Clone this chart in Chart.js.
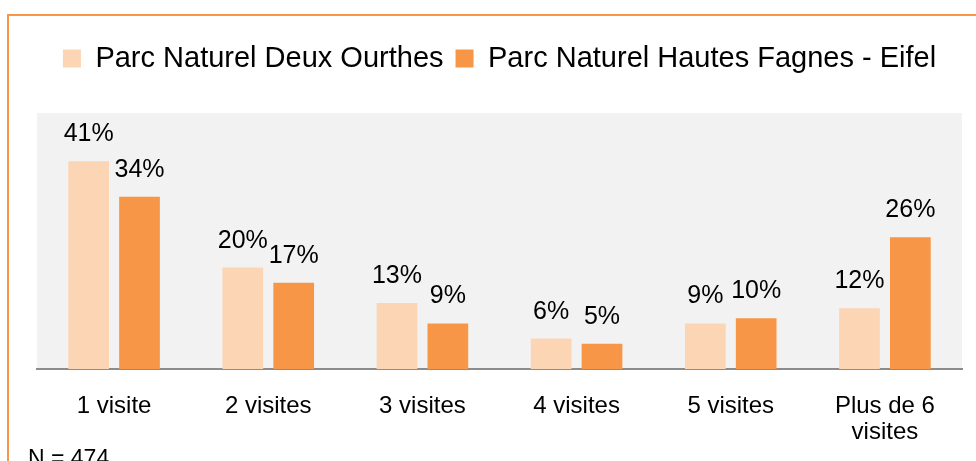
<!DOCTYPE html>
<html>
<head>
<meta charset="utf-8">
<script src="https://cdn.jsdelivr.net/npm/chart.js@4/dist/chart.umd.min.js"></script>
<style>
  html, body { margin: 0; padding: 0; background: #ffffff; overflow: hidden; }
  #wrap { position: relative; width: 976px; height: 461px; }
  #frame { position: absolute; left: 7px; top: 14px; width: 1200px; height: 800px;
           border-left: 2px solid #F79646; border-top: 2px solid #F79646; box-sizing: border-box; }
  canvas { position: absolute; left: 0; top: 0; }
</style>
</head>
<body>
<div id="wrap">
  <div id="frame"></div>
  <canvas id="c" width="976" height="461"></canvas>
</div>
<script>
const categories = ["1 visite", "2 visites", "3 visites", "4 visites", "5 visites", ["Plus de 6", "visites"]];
const seriesNames = ["Parc Naturel Deux Ourthes", "Parc Naturel Hautes Fagnes - Eifel"];
const deuxOurthes = [41, 20, 13, 6, 9, 12];
const hautesFagnes = [34, 17, 9, 5, 10, 26];
const footnote = "N = 474";

const FONT = "'Liberation Sans', Arial, sans-serif";

const plotBg = {
  id: 'plotBg',
  beforeDraw(chart) {
    const a = chart.chartArea, ctx = chart.ctx;
    ctx.save();
    ctx.fillStyle = '#F2F2F2';
    ctx.fillRect(a.left, a.top, a.right - a.left, a.bottom - a.top);
    ctx.restore();
  }
};

const valueLabels = {
  id: 'valueLabels',
  afterDatasetsDraw(chart) {
    const ctx = chart.ctx;
    ctx.save();
    ctx.font = "25px " + FONT;
    ctx.fillStyle = '#000000';
    ctx.textAlign = 'center';
    ctx.textBaseline = 'alphabetic';
    chart.data.datasets.forEach((ds, i) => {
      const meta = chart.getDatasetMeta(i);
      meta.data.forEach((el, j) => {
        ctx.fillText(ds.data[j] + '%', el.x, el.y - 20);
      });
    });
    ctx.restore();
  }
};

const footText = {
  id: 'footText',
  afterDraw(chart) {
    const ctx = chart.ctx;
    ctx.save();
    ctx.font = "23px " + FONT;
    ctx.fillStyle = '#000000';
    ctx.textAlign = 'left';
    ctx.textBaseline = 'alphabetic';
    ctx.fillText(footnote, 28, 466);
    ctx.restore();
  }
};

const legendSpace = {
  id: 'legendSpace',
  beforeInit(chart) {
    const origFit = chart.legend.fit;
    chart.legend.fit = function () {
      origFit.bind(chart.legend)();
      this.height += 30;
    };
  }
};

new Chart(document.getElementById('c'), {
  type: 'bar',
  data: {
    labels: categories,
    datasets: [
      { label: seriesNames[0], data: deuxOurthes, backgroundColor: '#FCD5B5',
        categoryPercentage: 0.66, barPercentage: 0.8 },
      { label: seriesNames[1], data: hautesFagnes, backgroundColor: '#F79646',
        categoryPercentage: 0.66, barPercentage: 0.8 }
    ]
  },
  options: {
    responsive: false,
    animation: false,
    layout: { padding: { left: 37, right: 14, top: 32, bottom: 0 } },
    plugins: {
      legend: {
        position: 'top',
        labels: {
          boxWidth: 18, boxHeight: 18, padding: 12,
          color: '#000000',
          font: { family: FONT, size: 29 }
        }
      },
      tooltip: { enabled: false }
    },
    scales: {
      x: {
        grid: { display: false, drawTicks: false },
        border: { display: true, color: '#8C8C8C', width: 2 },
        ticks: { color: '#000000', padding: 24, maxRotation: 0, autoSkip: false,
                 font: { family: FONT, size: 24, lineHeight: 1.08 } },
        afterFit(scale) { scale.height = 92; }
      },
      y: {
        display: false,
        min: 0, max: 50.5
      }
    }
  },
  plugins: [legendSpace, plotBg, valueLabels, footText]
});
</script>
</body>
</html>
